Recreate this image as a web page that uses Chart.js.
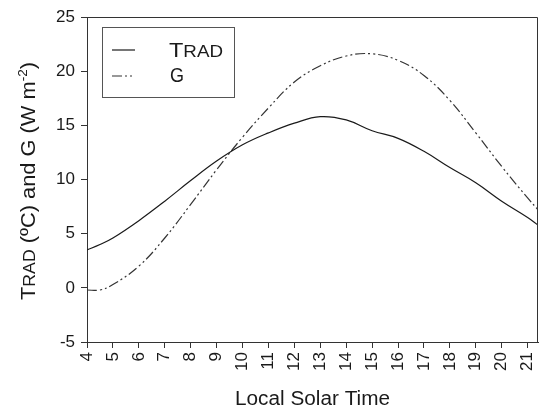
<!DOCTYPE html>
<html>
<head>
<meta charset="utf-8">
<script src="https://cdn.jsdelivr.net/npm/chart.js@4.4.0/dist/chart.umd.min.js"></script>
<style>
  body { margin: 0; background: #fff; }
  canvas { display: block; }
</style>
</head>
<body>
<canvas id="myChart" width="539" height="413"></canvas>
<script>
// hours of local solar time
let hours=[4,4.5,5,6,7,8,9,10,11,12,13,14,15,16,17,18,19,20,21,21.4]
// radiometric temperature (deg C)
let tradVals=[3.5,4.0,4.6,6.2,8.0,9.9,11.7,13.2,14.3,15.2,15.8,15.5,14.5,13.8,12.6,11.1,9.7,8.0,6.5,5.8]
// soil heat flux G (W m-2)
let gVals=[-0.2,-0.2,0.3,2.0,4.6,7.7,10.9,13.9,16.6,19.0,20.5,21.4,21.6,21.0,19.6,17.3,14.3,11.2,8.3,7.2]

let xTicks=[4,21.4]
let yTicks=[-5,25]

const FONT='"Liberation Sans", Arial, sans-serif'

function pts(vals){
  let out=[]
  for(var i=0;i<hours.length;i++){
    out.push({x:hours[i],y:vals[i]})
  }
  return out
}

// draw a run of text pieces, stretched to a target width
function drawPieces(ctx,pieces,x,y,target){
  let w=0
  pieces.forEach(p=>{ ctx.font=p.size+'px '+FONT; w+=ctx.measureText(p.t).width })
  ctx.save()
  ctx.translate(x,y)
  ctx.scale(target/w,1)
  let cx=0
  pieces.forEach(p=>{
    ctx.font=p.size+'px '+FONT
    ctx.fillText(p.t,cx,-(p.up||0))
    cx+=ctx.measureText(p.t).width
  })
  ctx.restore()
}

const extras={
  id:'extras',
  afterDraw(chart){
    const ctx=chart.ctx
    const a=chart.chartArea
    ctx.save()
    // frame top and right
    ctx.strokeStyle='#333'
    ctx.lineWidth=1
    ctx.beginPath()
    ctx.moveTo(a.left,a.top+0.5)
    ctx.lineTo(a.right-0.5,a.top+0.5)
    ctx.lineTo(a.right-0.5,a.bottom)
    ctx.stroke()

    // legend box
    ctx.strokeStyle='#555'
    ctx.strokeRect(102.5,27.5,132,70)
    ctx.strokeStyle='#1a1a1a'
    ctx.lineWidth=1.2
    ctx.beginPath(); ctx.moveTo(112,50); ctx.lineTo(135,50); ctx.stroke()
    ctx.strokeStyle='#333'
    ctx.setLineDash([10,3,2,3,2,3])
    ctx.beginPath(); ctx.moveTo(112,76); ctx.lineTo(135,76); ctx.stroke()
    ctx.setLineDash([])

    ctx.fillStyle='#1a1a1a'
    ctx.textBaseline='alphabetic'
    ctx.textAlign='left'
    drawPieces(ctx,[{t:'T',size:20},{t:'RAD',size:16}],169,57,54)
    drawPieces(ctx,[{t:'G',size:20}],170,82,14)

    // x title
    drawPieces(ctx,[{t:'Local Solar Time',size:20}],235,405,155)

    // y title, rotated
    ctx.save()
    ctx.translate(35,300)
    ctx.rotate(-Math.PI/2)
    drawPieces(ctx,[
      {t:'T',size:21},{t:'RAD',size:17},{t:' (ºC) and G (W m',size:21},
      {t:'-2',size:13,up:8},{t:')',size:21}
    ],0,0,238)
    ctx.restore()
    ctx.restore()
  }
}

new Chart(document.getElementById('myChart'),{
  type:'line',
  data:{
    datasets:[{
      label:'TRAD',
      data:pts(tradVals),
      borderColor:'#1a1a1a',
      borderWidth:1.2,
      pointRadius:0,
      tension:0.4,
      fill:false
    },{
      label:'G',
      data:pts(gVals),
      borderColor:'#333',
      borderWidth:1.2,
      borderDash:[10,3,2,3,2,3],
      pointRadius:0,
      tension:0.4,
      fill:false
    }]
  },
  options:{
    responsive:false,
    animation:false,
    layout:{padding:{top:17,right:1,left:0,bottom:0}},
    plugins:{legend:{display:false},tooltip:{enabled:false}},
    scales:{
      x:{
        type:'linear',
        min:xTicks[0],
        max:xTicks[1],
        afterFit(s){ s.height=71; s.paddingLeft=0; s.paddingRight=0 },
        border:{color:'#333',width:1},
        grid:{drawOnChartArea:false,tickLength:6,color:'#333'},
        ticks:{
          stepSize:1,
          includeBounds:false,
          autoSkip:false,
          minRotation:90,
          maxRotation:90,
          padding:4,
          color:'#1a1a1a',
          font:{family:FONT,size:17}
        }
      },
      y:{
        min:yTicks[0],
        max:yTicks[1],
        afterFit(s){ s.width=87; s.paddingTop=0; s.paddingBottom=0 },
        border:{color:'#333',width:1},
        grid:{drawOnChartArea:false,tickLength:6,color:'#333'},
        ticks:{
          stepSize:5,
          padding:6,
          color:'#1a1a1a',
          font:{family:FONT,size:17}
        }
      }
    }
  },
  plugins:[extras]
})
</script>
</body>
</html>
